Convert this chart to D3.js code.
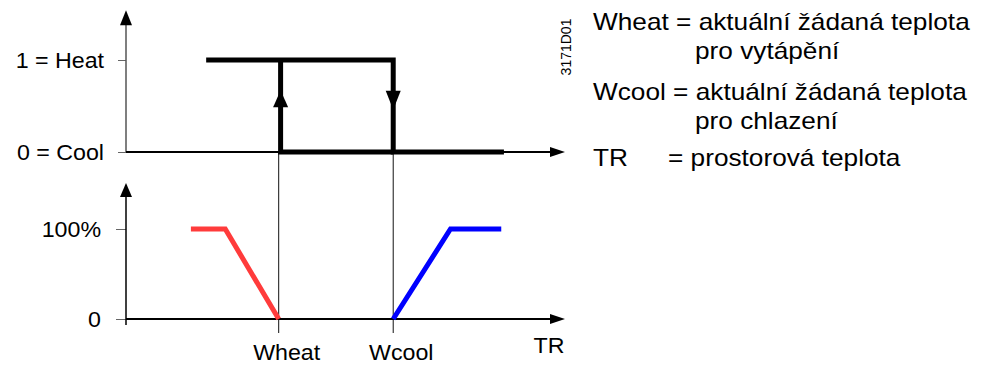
<!DOCTYPE html>
<html><head><meta charset="utf-8">
<script src="https://cdn.jsdelivr.net/npm/d3@7"></script>
<style>
html,body{margin:0;padding:0;background:#fff;}
svg{display:block;font-family:"Liberation Sans",Arial,Helvetica,sans-serif;}
</style></head><body>
<svg id="chart" width="992" height="367"></svg>
<script>
// Setpoints on the room temperature axis (arbitrary TR units)
const setpointNames = ["Wheat", "Wcool"];
const setpointTR = [0, 3];
// Heat/cool changeover state with hysteresis
const stateValues = [0, 1];
const stateLabels = ["0 = Cool", "1 = Heat"];
const switchDownTR = [-1.9, 3, 3, 5.9];
const switchDownState = [1, 1, 0, 0];
const switchUpTR = [3, 0.05, 0.05];
const switchUpState = [0, 0, 1];
const edgeArrowState = [0.67, 0.46];   // where the up / down arrows sit on the edges
// Output sequences (%)
const outputValues = [0, 100];
const outputLabels = ["0", "100%"];
const heatTR = [-2.3, -1.4, 0];
const heatOutput = [100, 100, 0];
const coolTR = [3, 4.5, 5.83];
const coolOutput = [0, 100, 100];
// Legend
const legendTerms = ["Wheat", "Wcool", "TR"];
const legendLines = [
  ["aktuální žádaná teplota", "pro vytápění"],
  ["aktuální žádaná teplota", "pro chlazení"],
  ["prostorová teplota"]
];
const axisName = "TR";
const docCode = "3171D01";

const svg = d3.select("#chart");
svg.append("rect").attr("width", 992).attr("height", 367).attr("fill", "#fff");

const x = d3.scaleLinear().domain([-4, 7.5]).range([126, 565]);
const yState = d3.scaleLinear().domain([0, 1]).range([152, 60]);
const yOut = d3.scaleLinear().domain([0, 100]).range([319, 229]);

const FS = 21.5, SX = 1.08;     // label font size and horizontal stretch
const LFS = 23, LSX = 1.14;     // legend font size and stretch

function label(g, txt, px, py, anchor, fs, sx) {
  return g.append("text")
    .attr("transform", `translate(${px},${py}) scale(${sx},1)`)
    .attr("text-anchor", anchor)
    .attr("font-size", fs)
    .attr("fill", "#000")
    .text(txt);
}

// filled triangular arrow head; dir: "up", "down", "right"
function arrowHead(g, tx, ty, dir, len, half) {
  let pts;
  if (dir === "up") pts = [[tx, ty], [tx - half, ty + len], [tx + half, ty + len]];
  else if (dir === "down") pts = [[tx, ty], [tx - half, ty - len], [tx + half, ty - len]];
  else pts = [[tx, ty], [tx - len, ty - half], [tx - len, ty + half]];
  g.append("path").attr("d", d3.line()(pts) + "Z").attr("fill", "#000");
}

const linePath = (xs, ys, yScale) => d3.line()(xs.map((v, i) => [x(v), yScale(ys[i])]));

// ---- thin setpoint guides through both panels
const guides = svg.append("g");
guides.selectAll("line").data(setpointTR).join("line")
  .attr("x1", d => x(d)).attr("x2", d => x(d))
  .attr("y1", yState(0)).attr("y2", yOut(0) + 14)
  .attr("stroke", "#111").attr("stroke-width", 1);

// ---- top panel: changeover state
const statePanel = svg.append("g");
const stateAxis = d3.axisLeft(yState).tickValues(stateValues)
  .tickFormat((d, i) => stateLabels[i]).tickSize(8).tickPadding(14);
const sa = statePanel.append("g").attr("transform", `translate(${x(-4)},0)`).call(stateAxis);
sa.select(".domain").remove();
sa.selectAll(".tick line").attr("stroke", "#666").attr("stroke-width", 1);
sa.selectAll(".tick text").attr("font-size", FS).attr("font-family", null)
  .attr("fill", "#000").attr("x", -22 / SX).attr("dy", "0.35em")
  .attr("transform", `scale(${SX},1)`);
// vertical axis line with arrow
statePanel.append("line").attr("x1", x(-4)).attr("x2", x(-4))
  .attr("y1", yState(0)).attr("y2", yState(1.54) + 12)
  .attr("stroke", "#555").attr("stroke-width", 1.5);
arrowHead(statePanel, x(-4), yState(1.54), "up", 15, 6);
// horizontal axis line with arrow
statePanel.append("line").attr("x1", x(-4)).attr("x2", x(7.5) - 10)
  .attr("y1", yState(0)).attr("y2", yState(0))
  .attr("stroke", "#000").attr("stroke-width", 2);
arrowHead(statePanel, x(7.5), yState(0), "right", 15, 5);

// hysteresis loop
statePanel.append("path").attr("d", linePath(switchDownTR, switchDownState, yState))
  .attr("fill", "none").attr("stroke", "#000").attr("stroke-width", 5)
  .attr("stroke-linejoin", "miter").attr("stroke-linecap", "butt");
statePanel.append("path").attr("d", linePath(switchUpTR, switchUpState, yState))
  .attr("fill", "none").attr("stroke", "#000").attr("stroke-width", 5)
  .attr("stroke-linejoin", "miter").attr("stroke-linecap", "butt");
arrowHead(statePanel, x(switchUpTR[1]), yState(edgeArrowState[0]), "up", 17, 7.5);
arrowHead(statePanel, x(setpointTR[1]), yState(edgeArrowState[1]), "down", 19, 7.5);

// ---- bottom panel: output sequences
const outPanel = svg.append("g");
const outAxis = d3.axisLeft(yOut).tickValues(outputValues)
  .tickFormat((d, i) => outputLabels[i]).tickSize(10).tickPadding(14);
const oa = outPanel.append("g").attr("transform", `translate(${x(-4)},0)`).call(outAxis);
oa.select(".domain").remove();
oa.selectAll(".tick line").attr("stroke", "#666").attr("stroke-width", 1);
oa.selectAll(".tick text").attr("font-size", FS).attr("font-family", null)
  .attr("fill", "#000").attr("x", -25 / SX).attr("dy", "0.35em")
  .attr("transform", `scale(${SX},1)`);
outPanel.append("line").attr("x1", x(-4)).attr("x2", x(-4))
  .attr("y1", yOut(0) + 6).attr("y2", yOut(151) + 12)
  .attr("stroke", "#000").attr("stroke-width", 1.5);
arrowHead(outPanel, x(-4), yOut(151), "up", 14, 6);
outPanel.append("line").attr("x1", x(-4)).attr("x2", x(7.5) - 10)
  .attr("y1", yOut(0)).attr("y2", yOut(0))
  .attr("stroke", "#000").attr("stroke-width", 2);
arrowHead(outPanel, x(7.5), yOut(0), "right", 15, 5);

outPanel.append("path").attr("d", linePath(heatTR, heatOutput, yOut))
  .attr("fill", "none").attr("stroke", "#ff3b3b").attr("stroke-width", 5)
  .attr("stroke-linejoin", "miter");
outPanel.append("path").attr("d", linePath(coolTR, coolOutput, yOut))
  .attr("fill", "none").attr("stroke", "#0000ff").attr("stroke-width", 5)
  .attr("stroke-linejoin", "miter");

// setpoint names under the TR axis
const names = svg.append("g");
setpointTR.forEach((v, i) => label(names, setpointNames[i], x(v) + 8, yOut(0) + 41, "middle", FS, SX));
label(names, axisName, x(7.5) - 16, yOut(0) + 34, "middle", FS, SX);

// drawing number, rotated
svg.append("text")
  .attr("transform", `translate(571,47) rotate(-90)`)
  .attr("text-anchor", "middle").attr("font-size", 14).attr("fill", "#000")
  .text(docCode);

// ---- legend
const lg = svg.append("g");
const lx = 593, indentX = 695;
const rows = [30, 100, 166];
legendTerms.forEach((term, i) => {
  const lines = legendLines[i];
  if (lines.length === 2) {
    label(lg, `${term} = ${lines[0]}`, lx, rows[i], "start", LFS, LSX);
    label(lg, lines[1], indentX, rows[i] + 29, "start", LFS, LSX);
  } else {
    label(lg, term, lx, rows[i], "start", LFS, LSX);
    label(lg, `= ${lines[0]}`, 668, rows[i], "start", LFS, LSX);
  }
});
</script>
</body></html>
